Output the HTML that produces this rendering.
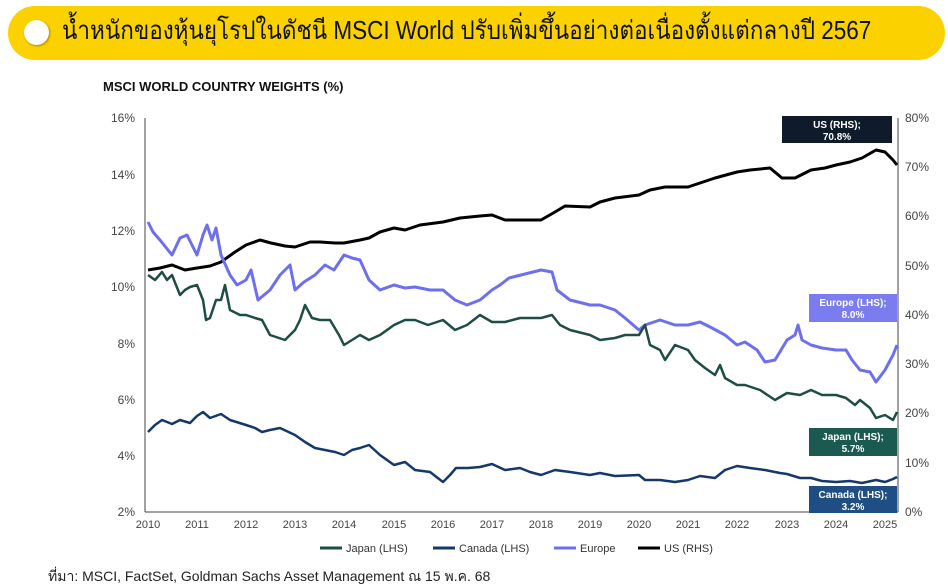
<!DOCTYPE html><html><head><meta charset="utf-8"><style>
body{margin:0;width:948px;height:586px;background:#fff;overflow:hidden;font-family:"Liberation Sans","Noto Sans CJK SC",sans-serif;position:relative}
.ban{position:absolute;left:8px;top:6px;width:937px;height:54px;background:#fbd100;border-radius:27px}
.dot{position:absolute;left:24px;top:20px;width:25px;height:25px;border-radius:50%;background:#fff;box-shadow:1px 1px 2px #a80}
.bt{position:absolute;left:62px;top:10px;font-size:26px;color:#111;white-space:nowrap;font-family:"Liberation Sans","Noto Sans CJK SC",sans-serif;transform:scaleX(0.865);transform-origin:left}
.st{position:absolute;left:103px;top:79px;font-size:13px;font-weight:bold;color:#111}
.ft{position:absolute;left:48px;top:566px;font-size:14px;color:#222}
</style></head><body>
<div class="ban"></div><div class="dot"></div>
<div class="bt">น้ำหนักของหุ้นยุโรปในดัชนี MSCI World ปรับเพิ่มขึ้นอย่างต่อเนื่องตั้งแต่กลางปี 2567</div>
<div class="st">MSCI WORLD COUNTRY WEIGHTS (%)</div>
<svg width="948" height="586" style="position:absolute;left:0;top:0" font-family="Liberation Sans,sans-serif">
<g stroke="#444" stroke-width="1" fill="none">
<line x1="145" y1="118" x2="145" y2="512"/><line x1="898" y1="118" x2="898" y2="512"/>
<line x1="145" y1="512" x2="898" y2="512"/>
</g>
<g font-size="12" fill="#444" text-anchor="end">
<text x="135" y="122">16%</text><text x="135" y="179">14%</text><text x="135" y="235">12%</text><text x="135" y="291">10%</text><text x="135" y="348">8%</text><text x="135" y="404">6%</text><text x="135" y="460">4%</text><text x="135" y="516">2%</text>
</g>
<g font-size="12" fill="#444">
<text x="905" y="122">80%</text><text x="905" y="171">70%</text><text x="905" y="220">60%</text><text x="905" y="270">50%</text><text x="905" y="319">40%</text><text x="905" y="368">30%</text><text x="905" y="417">20%</text><text x="905" y="467">10%</text><text x="905" y="516">0%</text>
</g>
<g font-size="11" fill="#444" text-anchor="middle">
<text x="148" y="528">2010</text><text x="197" y="528">2011</text><text x="246" y="528">2012</text><text x="295" y="528">2013</text><text x="344" y="528">2014</text><text x="394" y="528">2015</text><text x="443" y="528">2016</text><text x="492" y="528">2017</text><text x="541" y="528">2018</text><text x="590" y="528">2019</text><text x="639" y="528">2020</text><text x="688" y="528">2021</text><text x="737" y="528">2022</text><text x="787" y="528">2023</text><text x="836" y="528">2024</text><text x="885" y="528">2025</text>
</g>
<g fill="none" stroke-width="3" stroke-linejoin="round">
<polyline stroke="#000" points="148,270 160,268 172,265 185,270 197,268 210,266 221,262 235,252 246,245 260,240 271,243 285,246 295,247 310,242 320,242 335,243 344,243 360,240 369,238 380,232 394,228 405,230 420,225 443,222 460,218 480,216 492,215 505,220 520,220 541,220 555,212 565,206 590,207 600,202 615,198 639,195 650,190 665,187 688,187 700,183 715,178 737,172 750,170 770,168 782,178 795,178 811,170 825,168 836,165 850,162 862,158 876,150 885,152 893,160 897,165"/>
<polyline stroke="#6c6ff0" points="148,222 153,232 160,240 172,255 180,238 187,235 197,255 203,235 207,225 212,240 216,228 221,255 230,275 237,285 246,280 251,270 258,300 270,290 280,275 290,265 295,290 304,282 315,275 325,265 334,270 344,255 352,258 360,260 369,280 380,290 394,285 405,288 415,287 430,290 443,290 455,300 467,305 480,300 492,290 500,285 509,278 521,275 541,270 552,272 557,290 570,300 590,305 600,305 615,310 625,318 639,330 645,325 660,320 675,325 688,325 700,322 712,328 725,335 737,345 745,342 757,350 765,362 775,360 787,340 795,335 798,325 802,340 811,345 822,348 836,350 846,350 852,360 860,370 870,372 876,382 885,370 893,355 897,345"/>
<polyline stroke="#1d4d44" stroke-width="2.5" points="148,275 155,280 162,272 167,280 172,275 180,295 185,290 190,287 197,285 203,300 206,320 210,318 216,300 221,300 225,285 230,310 240,315 246,315 255,318 262,320 270,335 285,340 295,330 300,320 305,305 312,318 320,320 330,320 339,335 344,345 352,340 360,335 369,340 380,335 394,325 405,320 415,320 428,325 443,320 455,330 467,325 480,315 492,322 505,322 520,318 541,318 552,315 560,325 570,330 590,335 600,340 615,338 625,335 639,335 645,325 650,345 660,350 665,360 675,345 688,350 695,360 705,368 715,375 720,365 725,378 737,385 745,385 760,390 775,400 787,393 800,395 811,390 822,395 836,395 846,398 855,405 860,400 870,408 876,418 885,415 893,420 897,412"/>
<polyline stroke="#14386b" stroke-width="2.5" points="148,432 155,425 162,420 172,424 180,420 190,423 197,416 203,412 210,418 221,414 230,420 246,425 255,428 262,432 270,430 280,428 295,435 305,442 315,448 325,450 335,452 344,455 352,450 360,448 369,445 380,455 394,465 405,462 415,470 430,472 443,482 450,475 456,468 468,468 480,467 492,464 505,470 520,468 530,472 541,475 555,470 570,472 590,475 600,473 615,476 639,475 645,480 660,480 675,482 688,480 700,476 715,478 725,470 737,466 750,468 765,470 780,473 787,474 800,478 811,478 822,481 836,482 850,481 862,483 876,480 885,482 893,479 897,477"/>
</g>
<rect x="782" y="116" width="110" height="27" fill="#0f1a2b"/>
<text x="837" y="128" fill="#fff" font-size="10" font-weight="bold" text-anchor="middle">US (RHS);</text>
<text x="837" y="140" fill="#fff" font-size="10" font-weight="bold" text-anchor="middle">70.8%</text>
<rect x="809" y="294" width="88" height="28" fill="#7b7cf0"/>
<text x="853" y="306" fill="#fff" font-size="10" font-weight="bold" text-anchor="middle">Europe (LHS);</text>
<text x="853" y="318" fill="#fff" font-size="10" font-weight="bold" text-anchor="middle">8.0%</text>
<rect x="809" y="428" width="88" height="28" fill="#1a5a50"/>
<text x="853" y="440" fill="#fff" font-size="10" font-weight="bold" text-anchor="middle">Japan (LHS);</text>
<text x="853" y="452" fill="#fff" font-size="10" font-weight="bold" text-anchor="middle">5.7%</text>
<rect x="809" y="486" width="88" height="27" fill="#1f4e85"/>
<text x="853" y="498" fill="#fff" font-size="10" font-weight="bold" text-anchor="middle">Canada (LHS);</text>
<text x="853" y="510" fill="#fff" font-size="10" font-weight="bold" text-anchor="middle">3.2%</text>
<g font-size="11" fill="#333" stroke-width="3">
<line x1="320" y1="548" x2="342" y2="548" stroke="#1d4d44"/><text x="346" y="552">Japan (LHS)</text>
<line x1="433" y1="548" x2="455" y2="548" stroke="#14386b"/><text x="459" y="552">Canada (LHS)</text>
<line x1="554" y1="548" x2="576" y2="548" stroke="#6c6ff0"/><text x="580" y="552">Europe</text>
<line x1="638" y1="548" x2="660" y2="548" stroke="#000"/><text x="664" y="552">US (RHS)</text>
</g>
</svg>
<div class="ft">ที่มา: MSCI, FactSet, Goldman Sachs Asset Management ณ 15 พ.ค. 68</div>
</body></html>
